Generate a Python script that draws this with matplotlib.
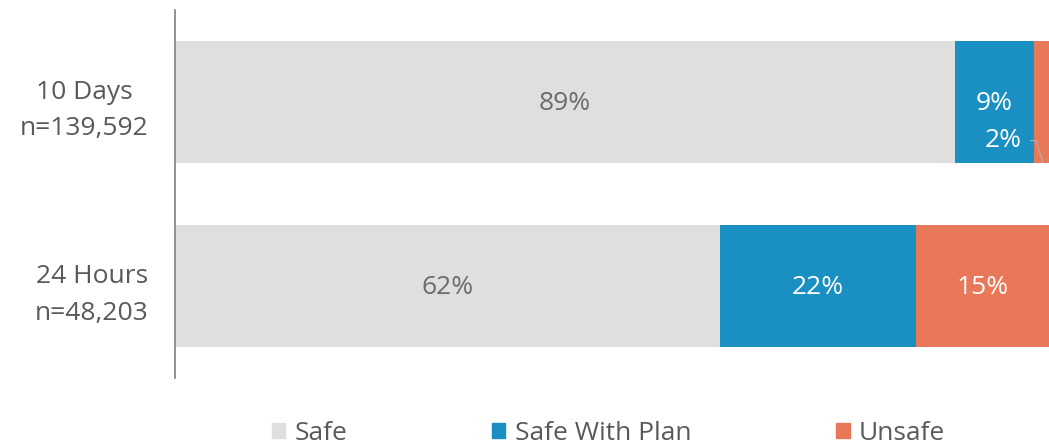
import matplotlib
matplotlib.use("Agg")
import matplotlib.pyplot as plt
import matplotlib.patches as mpatches
import numpy as np

plt.rcParams["font.family"] = ["Open Sans", "DejaVu Sans"]

CATEGORIES = ["24 Hours\nn=48,203", "10 Days\nn=139,592"]
SERIES = ["Safe", "Safe With Plan", "Unsafe"]
SAFE = [62.4, 89.2]
SAFE_WITH_PLAN = [22.4, 9.1]
UNSAFE = [15.2, 1.7]

COLORS = ["#dfdfde", "#1a8fc1", "#e97858"]
LABEL_COLORS = ["#6b6b6b", "white", "white"]
TEXT = "#595959"
FS = 19

fig = plt.figure(figsize=(10.49, 4.46), dpi=100)
ax = fig.add_axes([0.1668, 0.152, 0.8332, 0.826])

y = np.arange(len(CATEGORIES))
h = 0.66
left = np.zeros(len(CATEGORIES))
segments = []
for vals, col, lcol in zip([SAFE, SAFE_WITH_PLAN, UNSAFE], COLORS, LABEL_COLORS):
    vals = np.array(vals)
    ax.barh(y, vals, left=left, height=h, color=col, linewidth=0)
    segments.append((left.copy(), vals, lcol))
    left += vals

# value labels
for i in range(len(CATEGORIES)):
    for s, (lft, vals, lcol) in enumerate(segments):
        v = vals[i]
        if v < 5:
            continue
        ax.text(lft[i] + v / 2, y[i] - 0.01, f"{v:.0f}%", ha="center",
                va="center", color=lcol, fontsize=FS)

# small unsafe slice in the 10 Days bar: label sits in the blue segment
i = 1
lft_u, vals_u, _ = segments[2]
y_lab = y[i] - 0.21
ax.text(lft_u[i] - 1.4, y_lab, f"{vals_u[i]:.0f}%", ha="right", va="center",
        color="white", fontsize=FS)
ax.plot([lft_u[i] - 0.4, lft_u[i] + 0.2, lft_u[i] + vals_u[i] * 0.6],
        [y_lab, y_lab, y[i] - h / 2], color="#b0b0b0", lw=0.8)

ax.set_xlim(0, 100)
ax.set_ylim(-0.5, 1.5)
ax.set_yticks(y)
ax.set_yticklabels(CATEGORIES, fontsize=FS, color=TEXT, linespacing=1.6,
                   multialignment="center")
ax.tick_params(axis="y", length=0, pad=19)
ax.set_xticks([])
for side in ["top", "right", "bottom"]:
    ax.spines[side].set_visible(False)
ax.spines["left"].set_color("#7f7f7f")
ax.spines["left"].set_linewidth(1.2)

handles = [mpatches.Patch(color=c, label=l) for c, l in zip(COLORS, SERIES)]
leg = fig.legend(handles=handles, loc="center", ncol=3, frameon=False,
                 bbox_to_anchor=(0.58, 0.028), fontsize=FS,
                 handlelength=0.5, handleheight=0.5, handletextpad=0.35,
                 columnspacing=5.5)
for t in leg.get_texts():
    t.set_color(TEXT)

fig.savefig("out.png", dpi=100)
